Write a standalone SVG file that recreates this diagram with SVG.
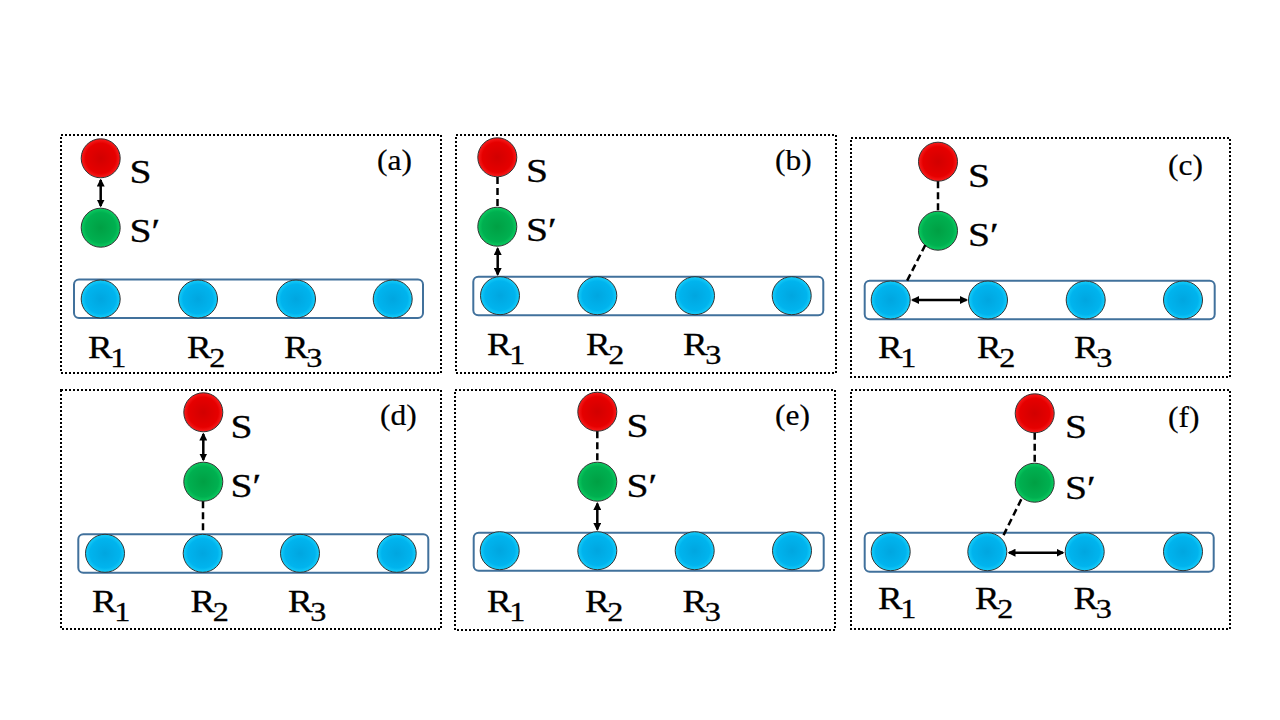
<svg xmlns="http://www.w3.org/2000/svg" width="1280" height="720" viewBox="0 0 1280 720">
<defs>
<radialGradient id="gRed" cx="50%" cy="50%" r="55%">
<stop offset="0" stop-color="#d20000"/><stop offset="0.7" stop-color="#e60000"/><stop offset="1" stop-color="#ff2a2a"/>
</radialGradient>
<radialGradient id="gGreen" cx="50%" cy="50%" r="55%">
<stop offset="0" stop-color="#00a044"/><stop offset="0.7" stop-color="#00b050"/><stop offset="1" stop-color="#10d868"/>
</radialGradient>
<radialGradient id="gBlue" cx="50%" cy="50%" r="55%">
<stop offset="0" stop-color="#00a6e0"/><stop offset="0.7" stop-color="#00b4ee"/><stop offset="1" stop-color="#20d8ff"/>
</radialGradient>
<marker id="ah" viewBox="0 0 8 8" refX="6.5" refY="4" markerWidth="8" markerHeight="8" markerUnits="userSpaceOnUse" orient="auto-start-reverse">
<path d="M0,0 L8,4 L0,8 z" fill="#000"/>
</marker>
</defs>
<style>
.frame{fill:none;stroke:#000;stroke-width:2;stroke-dasharray:2 2}
.box{fill:none;stroke:#41719c;stroke-width:2}
.s{fill:url(#gRed);stroke:#333;stroke-width:1}
.sp{fill:url(#gGreen);stroke:#333;stroke-width:1}
.r{fill:url(#gBlue);stroke:#333;stroke-width:1}
.t{font-family:"Liberation Serif","Times New Roman",serif;font-size:32px;fill:#000;stroke:#000;stroke-width:0.3}
.sl{font-size:33px}
.sub{font-size:28px}
.pl{font-family:"Liberation Serif","Times New Roman",serif;font-size:30px;fill:#000;stroke:#000;stroke-width:0.2}
.arr{stroke:#000;stroke-width:2.5;fill:none;marker-start:url(#ah);marker-end:url(#ah)}
.dash{stroke:#000;stroke-width:2.5;fill:none;stroke-dasharray:7 4}
</style>

<!-- Panel (a) -->
<g id="panel-a">
<rect class="frame" x="61" y="135" width="380" height="238"/>
<rect class="box" x="74" y="279.5" width="349" height="38.5" rx="5"/>
<circle class="s" cx="100.7" cy="158.3" r="19.5"/>
<circle class="sp" cx="100.7" cy="227.7" r="19.5"/>
<ellipse class="r" cx="100.7" cy="299" rx="19.5" ry="19"/>
<ellipse class="r" cx="198" cy="299" rx="19.5" ry="19"/>
<ellipse class="r" cx="296" cy="299" rx="19.5" ry="19"/>
<ellipse class="r" cx="392.7" cy="299" rx="19.5" ry="19"/>
<text class="t sl" transform="translate(129.5,183) scale(1.2,1)">S</text>
<text class="t sl" transform="translate(129.5,242) scale(1.2,1)">S′</text>
<text class="pl" transform="translate(377,170) scale(1.05,1)">(a)</text>
<text class="t" transform="translate(88,358) scale(1.15,1)">R<tspan class="sub" dx="-2" dy="9">1</tspan></text>
<text class="t" transform="translate(187,358) scale(1.15,1)">R<tspan class="sub" dx="-2" dy="9">2</tspan></text>
<text class="t" transform="translate(284,358) scale(1.15,1)">R<tspan class="sub" dx="-2" dy="9">3</tspan></text>
</g>

<!-- Panel (b) -->
<g id="panel-b">
<rect class="frame" x="456" y="135" width="380" height="238"/>
<rect class="box" x="473.3" y="276.7" width="350" height="38.5" rx="5"/>
<circle class="s" cx="497.3" cy="157.3" r="19.5"/>
<circle class="sp" cx="497.3" cy="226.7" r="19.5"/>
<ellipse class="r" cx="500" cy="295.7" rx="19.5" ry="19"/>
<ellipse class="r" cx="597.3" cy="295.7" rx="19.5" ry="19"/>
<ellipse class="r" cx="695" cy="295.7" rx="19.5" ry="19"/>
<ellipse class="r" cx="791.7" cy="295.7" rx="19.5" ry="19"/>
<text class="t sl" transform="translate(526,182) scale(1.2,1)">S</text>
<text class="t sl" transform="translate(526,241) scale(1.2,1)">S′</text>
<text class="pl" transform="translate(775,170) scale(1.05,1)">(b)</text>
<text class="t" transform="translate(487,355) scale(1.15,1)">R<tspan class="sub" dx="-2" dy="9">1</tspan></text>
<text class="t" transform="translate(586,355) scale(1.15,1)">R<tspan class="sub" dx="-2" dy="9">2</tspan></text>
<text class="t" transform="translate(683,355) scale(1.15,1)">R<tspan class="sub" dx="-2" dy="9">3</tspan></text>
</g>

<!-- Panel (c) -->
<g id="panel-c">
<rect class="frame" x="851" y="138" width="379" height="239"/>
<rect class="box" x="864.7" y="280.7" width="350" height="38.5" rx="5"/>
<circle class="s" cx="938" cy="161.7" r="19.5"/>
<circle class="sp" cx="938" cy="230.7" r="19.5"/>
<ellipse class="r" cx="890.7" cy="300" rx="19.5" ry="19"/>
<ellipse class="r" cx="988" cy="300" rx="19.5" ry="19"/>
<ellipse class="r" cx="1085.7" cy="300" rx="19.5" ry="19"/>
<ellipse class="r" cx="1183" cy="300" rx="19.5" ry="19"/>
<text class="t sl" transform="translate(968,186.5) scale(1.2,1)">S</text>
<text class="t sl" transform="translate(968,245.5) scale(1.2,1)">S′</text>
<text class="pl" transform="translate(1168,175) scale(1.05,1)">(c)</text>
<text class="t" transform="translate(878,358) scale(1.15,1)">R<tspan class="sub" dx="-2" dy="9">1</tspan></text>
<text class="t" transform="translate(977,358) scale(1.15,1)">R<tspan class="sub" dx="-2" dy="9">2</tspan></text>
<text class="t" transform="translate(1074,358) scale(1.15,1)">R<tspan class="sub" dx="-2" dy="9">3</tspan></text>
</g>

<!-- Panel (d) -->
<g id="panel-d">
<rect class="frame" x="61" y="390" width="380" height="239"/>
<rect class="box" x="78.3" y="534.3" width="350" height="38.5" rx="5"/>
<circle class="s" cx="203.3" cy="412.3" r="19.5"/>
<circle class="sp" cx="203.3" cy="481.7" r="19.5"/>
<ellipse class="r" cx="105" cy="553.3" rx="19.5" ry="19"/>
<ellipse class="r" cx="202.7" cy="553.3" rx="19.5" ry="19"/>
<ellipse class="r" cx="300" cy="553.3" rx="19.5" ry="19"/>
<ellipse class="r" cx="396.7" cy="553.3" rx="19.5" ry="19"/>
<text class="t sl" transform="translate(230.5,437.5) scale(1.2,1)">S</text>
<text class="t sl" transform="translate(230.5,497) scale(1.2,1)">S′</text>
<text class="pl" transform="translate(380,425) scale(1.05,1)">(d)</text>
<text class="t" transform="translate(92,612) scale(1.15,1)">R<tspan class="sub" dx="-2" dy="9">1</tspan></text>
<text class="t" transform="translate(190.5,612) scale(1.15,1)">R<tspan class="sub" dx="-2" dy="9">2</tspan></text>
<text class="t" transform="translate(288,612) scale(1.15,1)">R<tspan class="sub" dx="-2" dy="9">3</tspan></text>
</g>

<!-- Panel (e) -->
<g id="panel-e">
<rect class="frame" x="455" y="390" width="380" height="240"/>
<rect class="box" x="473.7" y="532.7" width="350" height="38" rx="5"/>
<circle class="s" cx="597.3" cy="411.7" r="19.5"/>
<circle class="sp" cx="597.3" cy="481.7" r="19.5"/>
<ellipse class="r" cx="499.7" cy="550.7" rx="19.5" ry="19"/>
<ellipse class="r" cx="597.3" cy="550.7" rx="19.5" ry="19"/>
<ellipse class="r" cx="694.7" cy="550.7" rx="19.5" ry="19"/>
<ellipse class="r" cx="792" cy="550.7" rx="19.5" ry="19"/>
<text class="t sl" transform="translate(626.5,436.5) scale(1.2,1)">S</text>
<text class="t sl" transform="translate(626.5,497) scale(1.2,1)">S′</text>
<text class="pl" transform="translate(775,425) scale(1.05,1)">(e)</text>
<text class="t" transform="translate(487,612) scale(1.15,1)">R<tspan class="sub" dx="-2" dy="9">1</tspan></text>
<text class="t" transform="translate(585,612) scale(1.15,1)">R<tspan class="sub" dx="-2" dy="9">2</tspan></text>
<text class="t" transform="translate(682.5,612) scale(1.15,1)">R<tspan class="sub" dx="-2" dy="9">3</tspan></text>
</g>

<!-- Panel (f) -->
<g id="panel-f">
<rect class="frame" x="851" y="390" width="379" height="239"/>
<rect class="box" x="864.7" y="532.7" width="349" height="39" rx="5"/>
<circle class="s" cx="1034.7" cy="413.3" r="19.5"/>
<circle class="sp" cx="1034.7" cy="482.7" r="19.5"/>
<ellipse class="r" cx="890.7" cy="551.7" rx="19.5" ry="19"/>
<ellipse class="r" cx="987.3" cy="551.7" rx="19.5" ry="19"/>
<ellipse class="r" cx="1084.7" cy="551.7" rx="19.5" ry="19"/>
<ellipse class="r" cx="1183" cy="551.7" rx="19.5" ry="19"/>
<text class="t sl" transform="translate(1065,438) scale(1.2,1)">S</text>
<text class="t sl" transform="translate(1065,499) scale(1.2,1)">S′</text>
<text class="pl" transform="translate(1168,426.5) scale(1.05,1)">(f)</text>
<text class="t" transform="translate(878,609) scale(1.15,1)">R<tspan class="sub" dx="-2" dy="9">1</tspan></text>
<text class="t" transform="translate(975,609) scale(1.15,1)">R<tspan class="sub" dx="-2" dy="9">2</tspan></text>
<text class="t" transform="translate(1073.5,609) scale(1.15,1)">R<tspan class="sub" dx="-2" dy="9">3</tspan></text>
</g>

<!-- Connectors -->
<g id="connectors">
<line class="arr" x1="100.7" y1="180" x2="100.7" y2="206"/>
<line class="dash" x1="497.5" y1="177" x2="497.5" y2="207"/>
<line class="arr" x1="497.7" y1="248.5" x2="497.7" y2="274.5"/>
<line class="dash" x1="938" y1="181.2" x2="938" y2="211.2"/>
<line class="dash" x1="925.3" y1="245" x2="905.3" y2="284.3"/>
<line class="arr" x1="912.5" y1="300" x2="966.5" y2="300"/>
<line class="arr" x1="203.3" y1="434" x2="203.3" y2="460"/>
<line class="dash" x1="203" y1="501.2" x2="203" y2="534.3"/>
<line class="dash" x1="597.3" y1="431.2" x2="597.3" y2="462.2"/>
<line class="arr" x1="597.3" y1="503.5" x2="597.3" y2="529.5"/>
<line class="dash" x1="1034.7" y1="432.8" x2="1034.7" y2="463.2"/>
<line class="dash" x1="1021.3" y1="499.3" x2="1002" y2="538.3"/>
<line class="arr" x1="1009" y1="552.7" x2="1063" y2="552.7"/>
</g>
</svg>
